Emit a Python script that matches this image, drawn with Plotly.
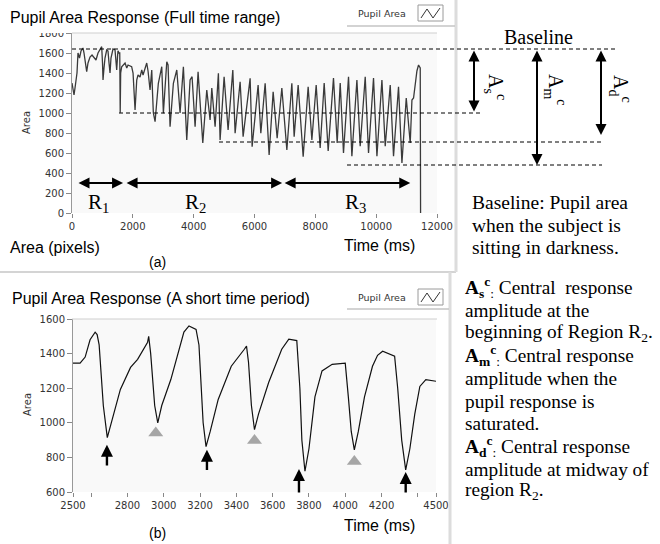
import plotly.graph_objects as go

W, H = 660, 544
def px(x):
    return x / W
def py(y):
    return 1 - y / H

# ---------------- data ----------------
top_t = [0, 66, 99, 164, 197, 247, 296, 362, 395, 427, 483, 526, 592, 658, 723, 789, 855, 921, 976,
         1003, 1020, 1052, 1085, 1141, 1184, 1217, 1250, 1282, 1305, 1348, 1414, 1447, 1470, 1496,
         1512, 1545, 1570, 1585, 1600, 1634, 1678, 1744, 1800, 1842, 1961, 2007, 2073, 2128, 2171,
         2237, 2293, 2336, 2457, 2500, 2566, 2622, 2648, 2675, 2731, 2839, 2951, 3004, 3116, 3158,
         3224, 3333, 3445, 3553, 3662, 3773, 3882, 3948, 4047, 4145, 4300, 4431, 4540, 4596, 4705,
         4813, 4869, 5001, 5132, 5287, 5363, 5527, 5626, 5856, 5922, 6119, 6208, 6350, 6481, 6613,
         6745, 6899, 7064, 7228, 7304, 7435, 7600, 7764, 7886, 8028, 8159, 8291, 8422, 8597, 8719,
         8818, 8926, 9091, 9202, 9367, 9475, 9640, 9749, 9913, 10025, 10189, 10298, 10462, 10571,
         10735, 10847, 10989, 11120, 11176, 11229, 11340, 11393, 11449, 11460]
top_area = [1300, 1180, 1250, 1400, 1600, 1550, 1620, 1650, 1600, 1530, 1413, 1500, 1560, 1580, 1560,
            1530, 1600, 1630, 1663, 1500, 1330, 1450, 1550, 1630, 1620, 1500, 1400, 1550, 1600, 1640,
            1630, 1500, 1430, 1560, 1623, 1600, 1600, 1003, 1400, 1463, 1480, 1500, 1450, 1480, 1463,
            1400, 1030, 1330, 1380, 1360, 1430, 1380, 1500, 1420, 1230, 1430, 1200, 1000, 913, 1297,
            1463, 997, 1513, 1480, 863, 1297, 1430, 1000, 1463, 730, 1330, 1363, 863, 1413, 700, 1230,
            930, 1250, 863, 1397, 730, 1363, 830, 1430, 797, 1313, 763, 1347, 663, 1280, 797, 1297,
            580, 1213, 747, 1250, 630, 1297, 763, 1280, 563, 1263, 730, 1280, 650, 1300, 620, 1350,
            700, 1300, 600, 1363, 567, 1330, 667, 1363, 600, 1350, 567, 1330, 667, 1280, 567, 1263,
            500, 1150, 700, 1130, 1150, 1420, 1480, 1450, 0]

short_t = [2500, 2539, 2567, 2594, 2622, 2633, 2644, 2667, 2689, 2711, 2761, 2817, 2856, 2911, 2917,
           2928, 2950, 2967, 2989, 3039, 3083, 3111, 3139, 3178, 3194, 3217, 3233, 3256, 3300, 3372,
           3444, 3456, 3467, 3483, 3500, 3522, 3578, 3650, 3689, 3733, 3750, 3761, 3778, 3800, 3833,
           3872, 3928, 4000, 4017, 4033, 4050, 4072, 4106, 4150, 4178, 4206, 4272, 4289, 4311, 4333,
           4356, 4383, 4411, 4444, 4500]
short_area = [1345, 1345, 1380, 1480, 1524, 1510, 1450, 1100, 914, 1000, 1193, 1320, 1367, 1466, 1500,
              1400, 1100, 1000, 1100, 1250, 1420, 1524, 1560, 1540, 1450, 1000, 862, 950, 1135, 1327,
              1425, 1443, 1350, 1100, 960, 1050, 1233, 1425, 1483, 1475, 1200, 900, 720, 850, 1150,
              1300, 1338, 1345, 1150, 950, 844, 950, 1150, 1327, 1390, 1414, 1385, 1200, 900, 728,
              850, 1050, 1210, 1250, 1240]

tri_t = [2956, 3500, 4050]
tri_area = [941, 898, 776]
arrow_t = [2687, 3238, 3745, 4333]
arrow_tip = [873, 844, 733, 716]
arrow_tail = [745, 718, 588, 588]

baseline_level = 1640
as_level = 1000
ad_level = 710
am_level = 480
region_bounds = [164, 1678, 1744, 6909, 6942, 11120]
region_y = 300
region_label_t = [855, 4047, 9310]
region_label_y = 100

top_xticks = [0, 2000, 4000, 6000, 8000, 10000, 12000]
top_xticktext = ['0', '2000', '4000', '6000', '8000', '10000', '12000']
top_yticks = [0, 200, 400, 600, 800, 1000, 1200, 1400, 1600, 1800]
short_xticks = [2500, 2600, 2800, 3000, 3200, 3400, 3600, 3800, 4000, 4200, 4400, 4500]
short_xticktext = ['2500', '', '2800', '3000', '3200', '3400', '3600', '3800', '4000', '4200', '', '4500']
short_yticks = [600, 800, 1000, 1200, 1400, 1600]

# ---------------- figure ----------------
fig = go.Figure()
fig.add_trace(go.Scatter(x=top_t, y=top_area, mode='lines', xaxis='x', yaxis='y',
                         line=dict(color='#3a3a3a', width=1.3), hoverinfo='skip'))
fig.add_trace(go.Scatter(x=short_t, y=short_area, mode='lines', xaxis='x2', yaxis='y2',
                         line=dict(color='#111111', width=1.2), hoverinfo='skip'))
fig.add_trace(go.Scatter(x=tri_t, y=tri_area, mode='markers', xaxis='x2', yaxis='y2',
                         marker=dict(symbol='triangle-up', size=13, color='#a6a6a6'), hoverinfo='skip'))

tickfont = dict(family='DejaVu Sans', size=10, color='#333333')
common = dict(showgrid=False, zeroline=False, ticks='outside', tickcolor='#888888', tickfont=tickfont,
              fixedrange=True, automargin=False)

fig.update_layout(
    width=W, height=H, margin=dict(l=0, r=0, t=0, b=0, pad=0, autoexpand=False),
    paper_bgcolor='white', plot_bgcolor='#f9f9f9', showlegend=False,
    xaxis=dict(domain=[px(72), px(437)], range=[0, 12000], tickvals=top_xticks, ticktext=top_xticktext,
               ticklen=4, showline=False, anchor='y', **common),
    yaxis=dict(domain=[py(213), py(33)], range=[0, 1800], tickvals=top_yticks, ticklen=5,
               showline=True, linecolor='#999999', anchor='x', **common),
    xaxis2=dict(domain=[px(73), px(436)], range=[2500, 4500], tickvals=short_xticks,
                ticktext=short_xticktext, ticklen=4, showline=False, anchor='y2', **common),
    yaxis2=dict(domain=[py(492), py(319)], range=[600, 1600], tickvals=short_yticks, ticklen=5,
                showline=True, linecolor='#999999', anchor='x2', **common),
)

shapes = []
# separators
shapes.append(dict(type='line', xref='paper', yref='paper', x0=0, x1=px(456), y0=py(272), y1=py(272),
                   line=dict(color='#d4d4d4', width=2)))
shapes.append(dict(type='line', xref='paper', yref='paper', x0=px(456), x1=px(456), y0=py(0), y1=py(272),
                   line=dict(color='#dcdcdc', width=3)))
shapes.append(dict(type='line', xref='paper', yref='paper', x0=px(450), x1=px(450), y0=py(272), y1=py(544),
                   line=dict(color='#dcdcdc', width=3)))
# plot top borders and legend frame lines
for yb, yl, xr in [(33, 26, 455), (319, 309, 449)]:
    shapes.append(dict(type='line', xref='paper', yref='paper', x0=px(72), x1=px(437), y0=py(yb), y1=py(yb),
                       line=dict(color='#cfcfcf', width=1)))
    shapes.append(dict(type='line', xref='paper', yref='paper', x0=px(347), x1=px(xr), y0=py(yl), y1=py(yl),
                       line=dict(color='#c4c4c4', width=1.5)))
# legend icons
for yc in [13, 297]:
    shapes.append(dict(type='rect', xref='paper', yref='paper', x0=px(418), x1=px(443), y0=py(yc + 8),
                       y1=py(yc - 8), line=dict(color='#9a9a9a', width=1), fillcolor='white'))
    shapes.append(dict(type='path', xref='paper', yref='paper',
                       path='M %f %f L %f %f L %f %f L %f %f' % (px(421), py(yc + 5), px(427), py(yc - 4),
                                                                 px(433), py(yc + 5), px(440), py(yc - 5)),
                       line=dict(color='#333333', width=1)))
# clip top of the 1800 label
shapes.append(dict(type='rect', xref='paper', yref='paper', x0=px(20), x1=px(70), y0=py(33), y1=py(18),
                   fillcolor='white', line=dict(width=0), layer='above'))
# dashed reference lines
dash = dict(color='black', width=1, dash='4px,3px')
shapes.append(dict(type='line', xref='paper', yref='y', x0=px(72), x1=px(618), y0=baseline_level,
                   y1=baseline_level, line=dash))
shapes.append(dict(type='line', xref='paper', yref='y', x0=px(119), x1=px(483), y0=as_level, y1=as_level,
                   line=dash))
shapes.append(dict(type='line', xref='paper', yref='y', x0=px(219), x1=px(602), y0=ad_level, y1=ad_level,
                   line=dash))
shapes.append(dict(type='line', xref='paper', yref='y', x0=px(347), x1=px(602), y0=am_level, y1=am_level,
                   line=dash))
fig.update_layout(shapes=shapes)

ann = []
def text(x, y, s, size, family='Liberation Sans', xanchor='left', angle=0, color='black'):
    ann.append(dict(x=px(x), y=py(y), xref='paper', yref='paper', text=s, showarrow=False,
                    xanchor=xanchor, yanchor='middle', textangle=angle,
                    font=dict(family=family, size=size, color=color)))

text(8, 17, 'Pupil Area Response (Full time range)', 16)
text(10, 298, 'Pupil Area Response (A short time period)', 16)
text(8, 247, 'Area (pixels)', 16)
text(379, 245, 'Time (ms)', 16, xanchor='center')
text(379, 525, 'Time (ms)', 16, xanchor='center')
text(157, 262, '(a)', 14, xanchor='center')
text(157, 533, '(b)', 14, xanchor='center')
text(27, 123, 'Area', 10, family='DejaVu Sans', xanchor='center', angle=-90, color='#333333')
text(27, 405, 'Area', 10, family='DejaVu Sans', xanchor='center', angle=-90, color='#333333')
text(408, 13, 'Pupil Area', 9.5, family='DejaVu Sans', xanchor='right', color='#333333')
text(408, 297, 'Pupil Area', 9.5, family='DejaVu Sans', xanchor='right', color='#333333')

serif = 'Liberation Serif'
text(538, 37, 'Baseline', 20, family=serif, xanchor='center')
text(495, 87, 'A<sub>s</sub><sup>c</sup>', 20, family=serif, xanchor='center', angle=90)
text(555, 90, 'A<sub>m</sub><sup>c</sup>', 20, family=serif, xanchor='center', angle=90)
text(620, 89, 'A<sub>d</sub><sup>c</sup>', 20, family=serif, xanchor='center', angle=90)
for s, y in [('Baseline: Pupil area', 202), ('when the subject is', 225), ('sitting in darkness.', 247)]:
    text(470, y, s, 19.5, family=serif)
right_lines = [
    ('<b>A</b><sub><b>s</b></sub><sup><b>c</b></sup><sub>:</sub> Central  response', 287),
    ('amplitude at the', 310),
    ('beginning of Region R<sub>2</sub>.', 333),
    ('<b>A</b><sub><b>m</b></sub><sup><b>c</b></sup><sub>:</sub> Central response', 355),
    ('amplitude when the', 378),
    ('pupil response is', 401),
    ('saturated.', 423),
    ('<b>A</b><sub><b>d</b></sub><sup><b>c</b></sup><sub>:</sub> Central response', 446),
    ('amplitude at midway of', 469),
    ('region R<sub>2</sub>.', 491),
]
for s, y in right_lines:
    text(463, y, s, 19.3, family=serif)

# region labels
for i, t in enumerate(region_label_t):
    ann.append(dict(x=t, y=region_label_y, xref='x', yref='y', text='R<sub>%d</sub>' % (i + 1),
                    showarrow=False, font=dict(family=serif, size=21, color='black')))
# region arrows
for a, b in [(0, 1), (2, 3), (4, 5)]:
    ann.append(dict(x=region_bounds[b], y=region_y, ax=region_bounds[a], ay=region_y, xref='x', yref='y',
                    axref='x', ayref='y', text='', showarrow=True, arrowhead=2, arrowside='end+start',
                    arrowsize=1.1, arrowwidth=2, arrowcolor='black', standoff=0, startstandoff=0))
# vertical amplitude arrows
for xp, lvl in [(474, as_level + 15), (537, am_level), (601, 780)]:
    ann.append(dict(x=px(xp), y=lvl, ax=0, ay=baseline_level, xref='paper', yref='y', axref='pixel',
                    ayref='y', text='', showarrow=True, arrowhead=2, arrowside='end+start', arrowsize=1.1,
                    arrowwidth=2, arrowcolor='black', standoff=0, startstandoff=0))
# minima arrows in short chart
for t, tip, tail in zip(arrow_t, arrow_tip, arrow_tail):
    ann.append(dict(x=t, y=tip, ax=t, ay=tail, xref='x2', yref='y2', axref='x2', ayref='y2', text='',
                    showarrow=True, arrowhead=2, arrowsize=1, arrowwidth=2.4, arrowcolor='black',
                    standoff=0))
fig.update_layout(annotations=ann)

fig.write_html('out.html', config={'displayModeBar': False},
               post_script="document.body.style.margin='0px';")
